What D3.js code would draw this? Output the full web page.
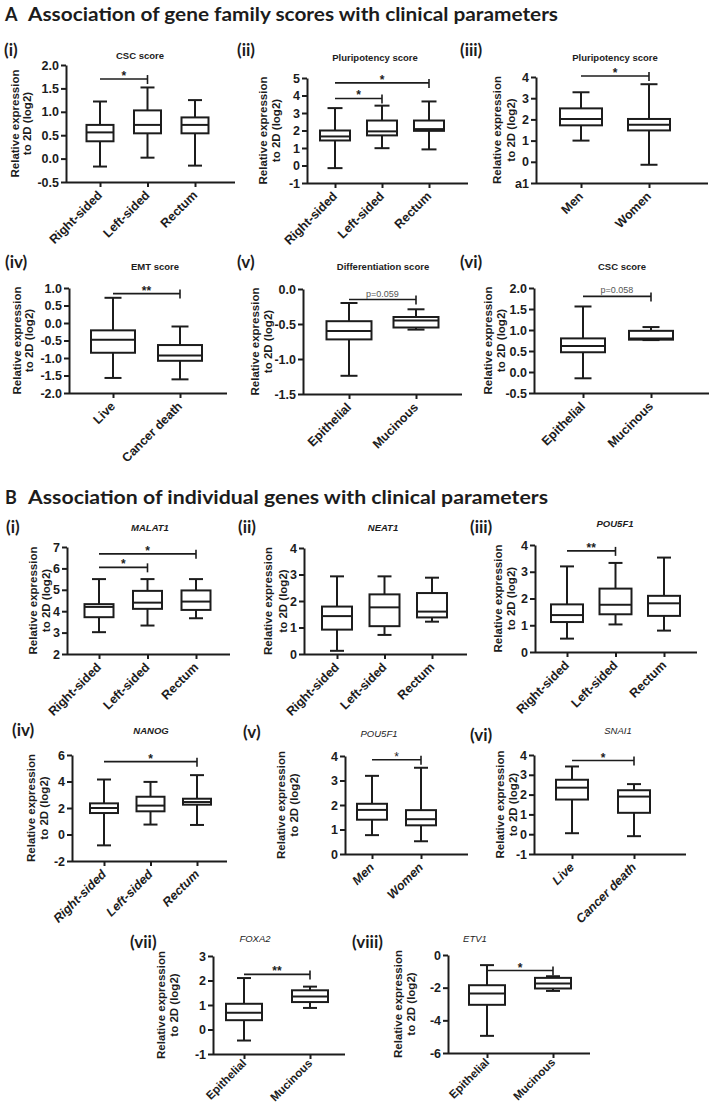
<!DOCTYPE html>
<html><head><meta charset="utf-8">
<script src="https://cdn.jsdelivr.net/npm/d3@7"></script>
<style>body{margin:0;background:#fff}svg{display:block}</style>
</head><body>
<svg id="c" width="709" height="1109"></svg>
<script>
// ---------------- DATA (five-number summaries: min, q1, median, q3, max) ----------------
const regionCats = ["Right-sided", "Left-sided", "Rectum"];
const sexCats = ["Men", "Women"];
const survivalCats = ["Live", "Cancer death"];
const histologyCats = ["Epithelial", "Mucinous"];

// A (i) CSC score
const aCscRegion = [[-0.17, 0.37, 0.56, 0.72, 1.22], [0.02, 0.54, 0.72, 1.03, 1.52], [-0.15, 0.54, 0.72, 0.88, 1.25]];
const aCscRegionTicks = [-0.5, 0, 0.5, 1, 1.5, 2];
const aCscRegionTickLabels = ["-0.5", "0.0", "0.5", "1.0", "1.5", "2.0"];
const aCscRegionSig = [{a: 0, b: 1, v: 1.7, t: "*"}];
// A (ii) Pluripotency score by region
const aPluriRegion = [[-0.15, 1.43, 1.66, 2.0, 3.28], [0.99, 1.72, 1.95, 2.57, 3.42], [0.92, 1.98, 2.08, 2.57, 3.66]];
const aPluriRegionTicks = [-1, 0, 1, 2, 3, 4, 5];
const aPluriRegionTickLabels = ["-1", "0", "1", "2", "3", "4", "5"];
const aPluriRegionSig = [{a: 0, b: 1, v: 3.83, t: "*"}, {a: 0, b: 2, v: 4.72, t: "*"}];
// A (iii) Pluripotency score by sex
const aPluriSex = [[1.0, 1.72, 2.02, 2.52, 3.28], [-0.14, 1.48, 1.75, 2.02, 3.66]];
const aPluriSexTicks = [-1, 0, 1, 2, 3, 4];
const aPluriSexTickLabels = ["a1", "0", "1", "2", "3", "4"];
const aPluriSexSig = [{a: 0, b: 1, v: 4.05, t: "*"}];
// A (iv) EMT score
const aEmt = [[-1.57, -0.85, -0.48, -0.21, 0.72], [-1.61, -1.08, -0.93, -0.63, -0.1]];
const aEmtTicks = [-2, -1.5, -1, -0.5, 0, 0.5, 1];
const aEmtTickLabels = ["-2.0", "-1.5", "-1.0", "-0.5", "0.0", "0.5", "1.0"];
const aEmtSig = [{a: 0, b: 1, v: 0.84, t: "**"}];
// A (v) Differentiation score
const aDiff = [[-1.24, -0.72, -0.6, -0.46, -0.2], [-0.58, -0.55, -0.45, -0.4, -0.29]];
const aDiffTicks = [-1.5, -1, -0.5, 0];
const aDiffTickLabels = ["-1.5", "-1.0", "-0.5", "0.0"];
const aDiffSig = [{a: 0, b: 1, v: -0.15, t: "p=0.059"}];
// A (vi) CSC score by histology
const aCscHist = [[-0.15, 0.47, 0.62, 0.8, 1.56], [0.76, 0.77, 0.8, 0.98, 1.07]];
const aCscHistTicks = [-0.5, 0, 0.5, 1, 1.5, 2];
const aCscHistTickLabels = ["-0.5", "0.0", "0.5", "1.0", "1.5", "2.0"];
const aCscHistSig = [{a: 0, b: 1, v: 1.8, t: "p=0.058"}];
// B (i) MALAT1
const bMalat1 = [[3.02, 3.72, 4.2, 4.33, 5.5], [3.33, 4.11, 4.4, 4.95, 5.5], [3.67, 4.06, 4.45, 4.97, 5.5]];
const bMalat1Ticks = [2, 3, 4, 5, 6, 7];
const bMalat1TickLabels = ["2", "3", "4", "5", "6", "7"];
const bMalat1Sig = [{a: 0, b: 1, v: 6.05, t: "*"}, {a: 0, b: 2, v: 6.68, t: "*"}];
// B (ii) NEAT1
const bNeat1 = [[0.12, 0.92, 1.43, 1.79, 2.93], [0.72, 1.05, 1.76, 2.25, 2.93], [1.22, 1.38, 1.6, 2.3, 2.88]];
const bNeat1Ticks = [0, 1, 2, 3, 4];
const bNeat1TickLabels = ["0", "1", "2", "3", "4"];
const bNeat1Sig = [];
// B (iii) POU5F1 by region
const bPou5f1Region = [[0.5, 1.12, 1.38, 1.78, 3.2], [1.03, 1.41, 1.77, 2.37, 3.33], [0.8, 1.35, 1.82, 2.1, 3.53]];
const bPou5f1RegionTicks = [0, 1, 2, 3, 4];
const bPou5f1RegionTickLabels = ["0", "1", "2", "3", "4"];
const bPou5f1RegionSig = [{a: 0, b: 1, v: 3.78, t: "**"}];
// B (iv) NANOG
const bNanog = [[-0.82, 1.62, 2.0, 2.35, 4.15], [0.75, 1.75, 2.18, 2.85, 3.97], [0.72, 2.25, 2.45, 2.7, 4.48]];
const bNanogTicks = [-2, 0, 2, 4, 6];
const bNanogTickLabels = ["-2", "0", "2", "4", "6"];
const bNanogSig = [{a: 0, b: 2, v: 5.5, t: "*"}];
// B (v) POU5F1 by sex
const bPou5f1Sex = [[0.77, 1.4, 1.8, 2.05, 3.19], [0.52, 1.17, 1.42, 1.79, 3.52]];
const bPou5f1SexTicks = [0, 1, 2, 3, 4];
const bPou5f1SexTickLabels = ["0", "1", "2", "3", "4"];
const bPou5f1SexSig = [{a: 0, b: 1, v: 3.85, t: "*"}];
// B (vi) SNAI1
const bSnai1 = [[0.05, 1.75, 2.35, 2.75, 3.42], [-0.1, 1.08, 1.9, 2.22, 2.53]];
const bSnai1Ticks = [-1, 0, 1, 2, 3, 4];
const bSnai1TickLabels = ["-1", "0", "1", "2", "3", "4"];
const bSnai1Sig = [{a: 0, b: 1, v: 3.72, t: "*"}];
// B (vii) FOXA2
const bFoxa2 = [[-0.45, 0.38, 0.68, 1.05, 2.1], [0.88, 1.12, 1.35, 1.6, 1.75]];
const bFoxa2Ticks = [-1, 0, 1, 2, 3];
const bFoxa2TickLabels = ["-1", "0", "1", "2", "3"];
const bFoxa2Sig = [{a: 0, b: 1, v: 2.25, t: "**"}];
// B (viii) ETV1
const bEtv1 = [[-4.95, -3.05, -2.35, -1.85, -0.62], [-2.2, -2.05, -1.75, -1.4, -1.3]];
const bEtv1Ticks = [-6, -4, -2, 0];
const bEtv1TickLabels = ["-6", "-4", "-2", "0"];
const bEtv1Sig = [{a: 0, b: 1, v: -0.95, t: "*"}];

const yTitleLines = ["Relative expression", "to 2D (log2)"];

// ---------------- LAYOUT ----------------
const INK = "#1c1c1c";
const ARIAL = "'Liberation Sans', Arial, sans-serif";
const HEAD = "Lato, 'Noto Sans', sans-serif";
const svg = d3.select("#c");

const panels = [
  {lab: "(i)", lx: 4, ly: 56, title: "CSC score", tx: 140, ty: 59, x0: 66, x1: 235, yTop: 65, yBot: 182, p0: 100, p1: 195, bw: 27, cw: 14, yt: [15, 27],
   cats: regionCats, stats: aCscRegion, ticks: aCscRegionTicks, tl: aCscRegionTickLabels, sig: aCscRegionSig},
  {lab: "(ii)", lx: 237, ly: 56, title: "Pluripotency score", tx: 375, ty: 61, x0: 307, x1: 468, yTop: 78, yBot: 183, p0: 335, p1: 429, bw: 30, cw: 15, yt: [263, 276],
   cats: regionCats, stats: aPluriRegion, ticks: aPluriRegionTicks, tl: aPluriRegionTickLabels, sig: aPluriRegionSig},
  {lab: "(iii)", lx: 460, ly: 56, title: "Pluripotency score", tx: 615, ty: 61, x0: 536, x1: 708, yTop: 77, yBot: 183, p0: 581, p1: 649, bw: 42, cw: 17, yt: [497, 511],
   cats: sexCats, stats: aPluriSex, ticks: aPluriSexTicks, tl: aPluriSexTickLabels, sig: aPluriSexSig},
  {lab: "(iv)", lx: 5, ly: 268, title: "EMT score", tx: 155, ty: 270, x0: 69, x1: 227, yTop: 288, yBot: 393, p0: 113, p1: 180, bw: 44, cw: 17, yt: [17, 29],
   cats: survivalCats, stats: aEmt, ticks: aEmtTicks, tl: aEmtTickLabels, sig: aEmtSig},
  {lab: "(v)", lx: 237, ly: 268, title: "Differentiation score", tx: 383, ty: 270, x0: 303, x1: 462, yTop: 289, yBot: 394, p0: 349, p1: 416, bw: 45, cw: 17, yt: [255, 268],
   cats: histologyCats, stats: aDiff, ticks: aDiffTicks, tl: aDiffTickLabels, sig: aDiffSig},
  {lab: "(vi)", lx: 460, ly: 268, title: "CSC score", tx: 622, ty: 270, x0: 534, x1: 709, yTop: 288, yBot: 393, p0: 583, p1: 651, bw: 44, cw: 17, yt: [488, 501],
   cats: histologyCats, stats: aCscHist, ticks: aCscHistTicks, tl: aCscHistTickLabels, sig: aCscHistSig},
  {lab: "(i)", lx: 6, ly: 533, title: "MALAT1", tx: 150, ty: 531, it: true, x0: 67, x1: 230, yTop: 547, yBot: 654, p0: 99, p1: 196, bw: 29, cw: 14, yt: [33, 46],
   cats: regionCats, stats: bMalat1, ticks: bMalat1Ticks, tl: bMalat1TickLabels, sig: bMalat1Sig},
  {lab: "(ii)", lx: 238, ly: 533, title: "NEAT1", tx: 383, ty: 531, it: true, x0: 304, x1: 467, yTop: 548, yBot: 654, p0: 337, p1: 432, bw: 30, cw: 14, yt: [268, 283],
   cats: regionCats, stats: bNeat1, ticks: bNeat1Ticks, tl: bNeat1TickLabels, sig: bNeat1Sig},
  {lab: "(iii)", lx: 470, ly: 533, title: "POU5F1", tx: 615, ty: 527, it: true, x0: 535, x1: 697, yTop: 545, yBot: 652, p0: 567, p1: 664, bw: 32, cw: 14, yt: [498, 511],
   cats: regionCats, stats: bPou5f1Region, ticks: bPou5f1RegionTicks, tl: bPou5f1RegionTickLabels, sig: bPou5f1RegionSig},
  {lab: "(iv)", lx: 12, ly: 736, title: "NANOG", tx: 151, ty: 734, it: true, x0: 72, x1: 227, yTop: 755, yBot: 861, p0: 104, p1: 197, bw: 28, cw: 14, yt: [31, 44], catIt: true,
   cats: regionCats, stats: bNanog, ticks: bNanogTicks, tl: bNanogTickLabels, sig: bNanogSig},
  {lab: "(v)", lx: 243, ly: 738, title: "POU5F1", tx: 379, ty: 737, it: true, thin: true, x0: 345, x1: 468, yTop: 756, yBot: 854, p0: 372, p1: 421, bw: 30, cw: 14, yt: [281, 294], catIt: true, starThin: true,
   cats: sexCats, stats: bPou5f1Sex, ticks: bPou5f1SexTicks, tl: bPou5f1SexTickLabels, sig: bPou5f1SexSig},
  {lab: "(vi)", lx: 470, ly: 741, title: "SNAI1", tx: 618, ty: 734, it: true, thin: true, x0: 534, x1: 686, yTop: 755, yBot: 854, p0: 572, p1: 634, bw: 32, cw: 14, yt: [500, 513], catIt: true,
   cats: survivalCats, stats: bSnai1, ticks: bSnai1Ticks, tl: bSnai1TickLabels, sig: bSnai1Sig},
  {lab: "(vii)", lx: 130, ly: 948, title: "FOXA2", tx: 255, ty: 942, it: true, thin: true, x0: 213, x1: 345, yTop: 956, yBot: 1054, p0: 244, p1: 310, bw: 36, cw: 14, yt: [161, 174], catFs: 11.5, catDy: 10,
   cats: histologyCats, stats: bFoxa2, ticks: bFoxa2Ticks, tl: bFoxa2TickLabels, sig: bFoxa2Sig},
  {lab: "(viii)", lx: 352, ly: 948, title: "ETV1", tx: 475, ty: 942, it: true, thin: true, x0: 448, x1: 590, yTop: 955, yBot: 1053, p0: 487, p1: 553, bw: 36, cw: 14, yt: [398, 411], catFs: 11.5, catDy: 10,
   cats: histologyCats, stats: bEtv1, ticks: bEtv1Ticks, tl: bEtv1TickLabels, sig: bEtv1Sig}
];

// ---------------- HEADINGS ----------------
function heading(letter, text, y, len) {
  svg.append("text").attr("x", 5).attr("y", y).attr("font-family", HEAD).attr("font-weight", "bold")
    .attr("font-size", 18).attr("fill", INK).text(letter);
  svg.append("text").attr("x", 28).attr("y", y).attr("font-family", HEAD).attr("font-weight", "bold")
    .attr("font-size", 19).attr("fill", INK).attr("textLength", len).attr("lengthAdjust", "spacingAndGlyphs").text(text);
}
heading("A", "Association of gene family scores with clinical parameters", 21, 530);
heading("B", "Association of individual genes with clinical parameters", 504, 520);

// ---------------- PANELS ----------------
function drawPanel(L) {
  const g = svg.append("g");
  const y = d3.scaleLinear().domain([L.ticks[0], L.ticks[L.ticks.length - 1]]).range([L.yBot, L.yTop]);
  const x = d3.scalePoint().domain(L.cats).range([L.p0, L.p1]);

  // panel label and title
  g.append("text").attr("x", L.lx).attr("y", L.ly).attr("font-family", HEAD).attr("font-weight", "bold")
    .attr("font-size", 17).attr("fill", INK).text(L.lab);
  g.append("text").attr("x", L.tx).attr("y", L.ty).attr("text-anchor", "middle").attr("font-family", ARIAL)
    .attr("font-weight", L.thin ? "normal" : "bold").attr("font-style", L.it ? "italic" : "normal")
    .attr("font-size", 9.5).attr("fill", INK).text(L.title);

  // y axis
  const ya = g.append("g").attr("transform", `translate(${L.x0},0)`)
    .call(d3.axisLeft(y).tickValues(L.ticks).tickFormat((d, i) => L.tl[i]).tickSize(5).tickSizeOuter(0).tickPadding(2));
  ya.select(".domain").attr("stroke", INK).attr("stroke-width", 2);
  ya.selectAll(".tick line").attr("stroke", INK).attr("stroke-width", 2);
  ya.selectAll(".tick text").attr("font-family", ARIAL).attr("font-weight", "bold").attr("font-size", 12.5).attr("fill", INK);

  // x axis
  const xa = g.append("g").attr("transform", `translate(0,${L.yBot})`)
    .call(d3.axisBottom(x).tickSize(5).tickSizeOuter(0).tickFormat(""));
  xa.select(".domain").attr("d", `M${L.x0},0.5H${L.x1}`).attr("stroke", INK).attr("stroke-width", 2);
  xa.selectAll(".tick line").attr("stroke", INK).attr("stroke-width", 2);

  // category labels
  const dy = L.catDy || 14;
  g.selectAll("text.cat").data(L.cats).join("text").attr("class", "cat")
    .attr("transform", d => `translate(${x(d) + 3},${L.yBot + dy}) rotate(-45)`)
    .attr("text-anchor", "end").attr("font-family", ARIAL).attr("font-weight", "bold")
    .attr("font-style", L.catIt ? "italic" : "normal").attr("font-size", L.catFs || 12.5).attr("fill", INK).text(d => d);

  // y title
  yTitleLines.forEach((t, i) => {
    g.append("text").attr("transform", `translate(${L.yt[i]},${(L.yTop + L.yBot) / 2}) rotate(-90)`)
      .attr("dy", "0.35em").attr("text-anchor", "middle").attr("font-family", ARIAL).attr("font-weight", "bold")
      .attr("font-size", 11.5).attr("fill", INK).text(t);
  });

  // boxes
  const bx = g.selectAll("g.box").data(L.stats).join("g").attr("class", "box")
    .attr("transform", (d, i) => `translate(${x(L.cats[i])},0)`);
  const st = s => s.attr("stroke", INK).attr("stroke-width", 2).attr("fill", "none");
  bx.append("line").attr("y1", d => y(d[4])).attr("y2", d => y(d[3])).call(st);
  bx.append("line").attr("y1", d => y(d[1])).attr("y2", d => y(d[0])).call(st);
  bx.append("line").attr("x1", -L.cw / 2).attr("x2", L.cw / 2).attr("y1", d => y(d[4])).attr("y2", d => y(d[4])).call(st);
  bx.append("line").attr("x1", -L.cw / 2).attr("x2", L.cw / 2).attr("y1", d => y(d[0])).attr("y2", d => y(d[0])).call(st);
  bx.append("rect").attr("x", -L.bw / 2).attr("width", L.bw).attr("y", d => y(d[3])).attr("height", d => y(d[1]) - y(d[3]))
    .call(st).attr("fill", "#fff");
  bx.append("line").attr("x1", -L.bw / 2).attr("x2", L.bw / 2).attr("y1", d => y(d[2])).attr("y2", d => y(d[2])).call(st);

  // significance bars
  L.sig.forEach(s => {
    const xa_ = x(L.cats[s.a]), xb = x(L.cats[s.b]), yy = y(s.v);
    g.append("line").attr("x1", xa_).attr("x2", xb).attr("y1", yy).attr("y2", yy).attr("stroke", INK).attr("stroke-width", 1.6);
    g.append("line").attr("x1", xb).attr("x2", xb).attr("y1", yy - 4).attr("y2", yy + 5).attr("stroke", INK).attr("stroke-width", 1.6);
    const isP = s.t.startsWith("p");
    g.append("text").attr("x", (xa_ + xb) / 2).attr("y", isP ? yy - 3 : yy + 1).attr("text-anchor", "middle")
      .attr("font-family", ARIAL).attr("font-weight", isP || L.starThin ? "normal" : "bold")
      .attr("font-size", isP ? 9 : 12).attr("fill", isP ? "#555" : INK).text(s.t);
  });
}
panels.forEach(drawPanel);
</script>
</body></html>
